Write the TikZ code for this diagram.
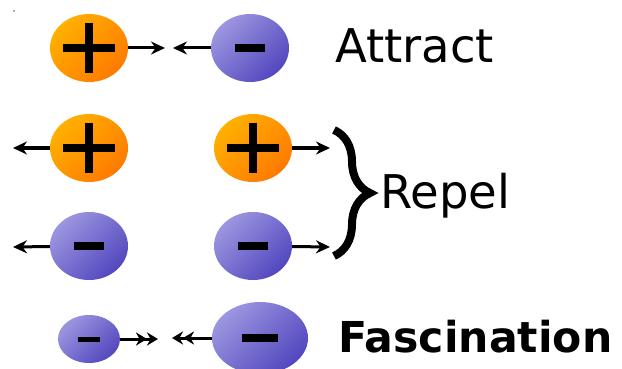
\documentclass[tikz,border=0pt]{standalone}
\usepackage{fontspec}
\setmainfont{DejaVu Sans}
\usetikzlibrary{shapes.geometric,arrows.meta,decorations.pathreplacing}
\definecolor{poslight}{HTML}{FFB000}
\definecolor{posdark}{HTML}{FF7A00}
\definecolor{neglight}{HTML}{9C96E0}
\definecolor{negdark}{HTML}{5247BE}
\begin{document}
\begin{tikzpicture}[x=1pt,y=-1pt,
  barlen/.store in=\barlen, barwd/.store in=\barwd, barlen=15pt, barwd=8pt,
  charge/.style={ellipse, inner sep=0pt, minimum width=78pt, minimum height=68pt},
  poscharge/.style={charge, top color=poslight, bottom color=posdark, shading angle=45,
    path picture={
      \draw[line width=8pt,black] ([xshift=-26pt]path picture bounding box.center) -- ([xshift=26pt]path picture bounding box.center);
      \draw[line width=8pt,black] ([yshift=-25pt]path picture bounding box.center) -- ([yshift=25pt]path picture bounding box.center);}},
  negcharge/.style={charge, top color=neglight, bottom color=negdark, shading angle=45,
    path picture={
      \draw[line width=\barwd,black] ([xshift=-\barlen]path picture bounding box.center) -- ([xshift=\barlen]path picture bounding box.center);}},
  pull/.style={line width=3pt, -{Stealth[length=14pt,width=13pt]}},
  dpull/.style={line width=3pt, -{Stealth[length=11pt,width=13pt] Stealth[length=11pt,width=13pt]}},
  lbl/.style={anchor=base west, inner sep=0pt, font=\fontsize{46.5}{50}\selectfont},
  blbl/.style={anchor=base west, inner sep=0pt, font=\fontsize{42.6}{48}\selectfont\bfseries}]
\useasboundingbox (0,0) rectangle (622,369);
\fill[gray] (14,11) circle (1pt);

% attraction
\node[poscharge] (a1) at (89,48) {};
\node[negcharge] (a2) at (250,48) {};
\coordinate (a1t) at (165,48);
\coordinate (a2t) at (173,48);
\draw[pull] (a1) -- (a1t);
\draw[pull] (a2) -- (a2t);
\node[lbl] (attract) at (335,63) {Attract};

% repulsion
\node[poscharge] (r1) at (89,148) {};
\node[poscharge] (r2) at (253,148) {};
\node[negcharge] (r3) at (89,246) {};
\node[negcharge] (r4) at (253,246) {};
\coordinate (r1t) at (13,148);
\coordinate (r2t) at (330,148);
\coordinate (r3t) at (13,247);
\coordinate (r4t) at (330,247);
\draw[pull] (r1) -- (r1t);
\draw[pull] (r2) -- (r2t);
\draw[pull] (r3) -- (r3t);
\draw[pull] (r4) -- (r4t);
\coordinate (btop) at (334,130);
\coordinate (bbot) at (334,256);
\draw[line width=8pt, decorate, decoration={brace, amplitude=36pt, aspect=0.5}] (btop) -- (bbot);
\node[lbl] (repel) at (380,208) {Repel};

% fascination
\node[negcharge, barlen=11pt, barwd=5pt, minimum width=62pt, minimum height=48pt] (f1) at (89,339) {};
\node[negcharge, barlen=18pt, barwd=8pt, minimum width=96pt, minimum height=72pt] (f2) at (260,338) {};
\coordinate (f1t) at (158,339);
\coordinate (f2t) at (172,338);
\draw[dpull] (f1) -- (f1t);
\draw[dpull] (f2) -- (f2t);
\node[blbl] (fasc) at (338,352) {Fascination};
\end{tikzpicture}
\end{document}
